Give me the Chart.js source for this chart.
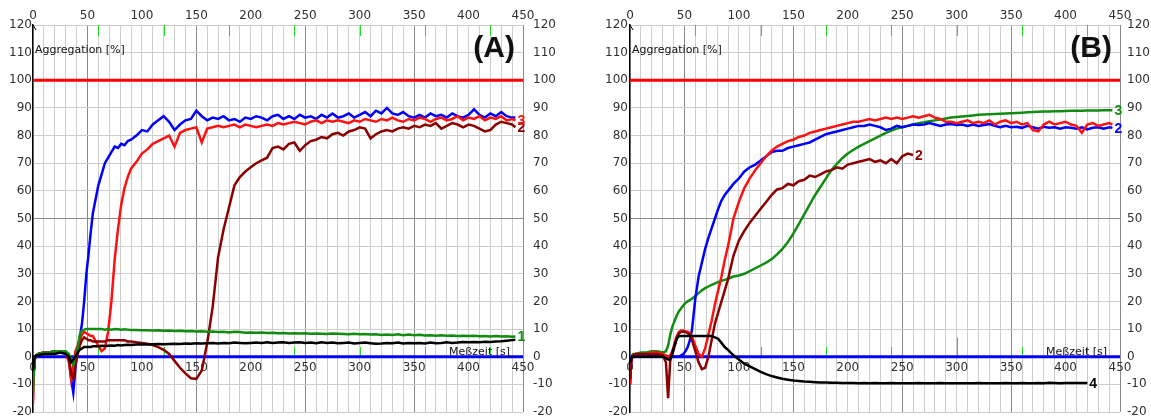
<!DOCTYPE html>
<html>
<head>
<meta charset="utf-8">
<script src="https://cdn.jsdelivr.net/npm/chart.js@4.4.1/dist/chart.umd.min.js"></script>
<style>
html, body { margin: 0; padding: 0; background: #fff; }
#wrap { position: relative; width: 1151px; height: 418px; overflow: hidden; }
canvas { position: absolute; top: 0; }
</style>
</head>
<body>
<div id="wrap">
  <canvas id="chartA" width="575" height="418" style="left:0"></canvas>
  <canvas id="chartB" width="576" height="418" style="left:575px"></canvas>
</div>
<script>
// time axis [s], shared by every curve
let time = [0,1,2,3,5,10,15,20,25,30,
  33,35,37,39,41,43,45,47,49,51,53,55,57,
  60,63,66,69,72,75,78,81,84,87,90,
  95,100,
  105,110,115,120,125,130,135,140,145,150,
  155,160,165,170,175,180,185,190,195,200,
  205,210,215,220,225,230,235,240,245,250,
  255,260,265,270,275,280,285,290,295,300,
  305,310,315,320,325,330,335,340,345,350,
  355,360,365,370,375,380,385,390,395,400,
  405,410,415,420,425,430,435,440,
  443];

// (A) aggregation [%]
let blueA = [-11,-3,0,0.5,1,1.5,1.5,2,2,1.5,
  0,-8,-13,-4,3,7,12,20,30,37,45,52,56,
  62,66,70,72,74,76,75.5,77,76.5,78,78.5,
  80,82,
  81.5,84,85.5,87,85,82,84,85.5,86,89,
  87,85.5,86.5,86,87,85.5,86,85,86.5,86,
  87,86.5,85.5,87,87.5,86,87,86,87.5,86.5,
  87,86,87.5,86.5,88,86.5,87,88,86.5,87.5,
  88.5,87,89,88,90,88,87.5,88.5,87,86.5,
  87.5,86.5,88,87,87.5,86.5,88,87,86.5,87.5,
  89.5,87.5,86.5,88,87,88.5,87,86.5,
  86.5];
let redA = [-17,-4,0,0.5,1,1.5,1.5,2,2,1.5,
  -2,-8,-3,2,4,6,8,9,8.5,8,7.5,7.5,6,
  4,2,3,9,20,35,46,55,61,65,68,
  70.5,73.5,
  75,77,78,79,80,76,81,82,82.5,83,
  77.5,82.5,83,83.5,83,83.5,84,83,84,83.5,
  83,83.5,84,83.5,84.5,84,84.5,85,84.5,84,
  85,85.5,84.5,85.5,85,85.5,85,84.5,85.5,85,
  86,85.5,85,86,85.5,86.5,85.5,85,86,85.5,
  86.5,86,85,86,86.5,85.5,86,87,85.5,86.5,
  86,87,85.5,86.5,86,87,85.5,86,
  85.5];
let darkRedA = [-8,-2,0,0.5,1,1.5,1.5,2,2,1.5,
  -1,-6,-8,-3,1,4,6,7,6.5,6,6,5.5,5.5,
  5.5,5.5,5.5,6,6,6,6,6,6,5.5,5.5,
  5.2,5,
  4.7,4.2,3.5,2.5,1,-1.5,-4,-6,-7.8,-8,
  -5,5,18,36,46,54,62,65,67,68.5,
  70,71,72,75.5,76,75,77,77.5,74.5,76.5,
  78,78.5,79.5,79,80.5,81,80,81.5,82,83,
  82.5,79,80.5,81.5,82,81.5,82.5,83,82.5,83.5,
  83,84,83.5,84.5,82.5,83.5,84.5,84,83,84,
  83.5,82.5,81.5,82,84,85,84.5,84,
  83];
let greenA = [-13,-3,0,0.5,1,1.5,1.5,2,2,2,
  1,-1,-3,0,3,8,9.5,9.8,10,10,10,10,10,
  10,10,9.8,10,9.8,10,9.9,9.8,9.9,9.8,9.7,
  9.7,9.6,
  9.6,9.5,9.6,9.4,9.5,9.3,9.4,9.2,9.3,9.1,
  9.2,9,9.1,8.9,9,8.8,9,8.9,8.7,8.8,
  8.7,8.8,8.6,8.7,8.5,8.6,8.4,8.5,8.4,8.5,
  8.3,8.4,8.3,8.2,8.4,8.3,8.2,8.1,8.3,8.1,
  8.2,8,8.1,7.9,8,7.9,8.1,7.8,8,7.8,
  7.9,7.7,7.8,7.6,7.8,7.6,7.7,7.5,7.6,7.5,
  7.6,7.4,7.5,7.3,7.5,7.3,7.4,7.2,
  7.3];
let blackA = [-5,-1,0,0.5,0.5,1,1,1,1.5,1,
  0,-2,-1,0,1.5,2.5,3,3.5,3.5,3.5,3.5,3.8,3.8,
  3.8,4,3.9,4,4.1,4,4.2,4.1,4.2,4.3,4.2,
  4.4,4.5,
  4.4,4.5,4.6,4.5,4.6,4.7,4.6,4.8,4.7,4.9,
  4.8,4.9,5,4.8,5,4.9,5.1,5,4.9,5,
  5.1,5,5.2,5,5.1,5.2,5,5.1,5.2,5,
  5.1,4.9,5.2,5,5.1,4.9,5,5.1,4.8,5,
  5.1,4.9,4.7,4.8,5,4.9,5.1,4.8,5,4.9,
  5,4.8,5.1,4.9,5,5.2,5,5.1,5.3,5.2,
  5.3,5.2,5.4,5.3,5.5,5.6,5.8,6,
  6.1];

// (B) aggregation [%]
let blueB = [-10,-2,0,0,0,0.5,0.5,0.5,0.5,0.5,
  0,0,0,0,0,0,0,0.5,1,2,3.5,6,10,
  21,29,34,39,43,46.5,50,53.5,56.5,58.5,60,
  62.5,64.5,
  67,68.5,69.5,71,72.5,74,74.5,74.5,75.5,76,
  76.5,77,77.5,78.5,79.5,80.5,81,81.5,82,82.5,
  83,83.5,83.5,84,83.5,83,82,82.5,83.5,83,
  83.5,84,83.8,84,84.5,84,83.5,84,84.2,83.8,
  84,83.5,84,83.5,83.8,84.2,83.5,83,83.5,83,
  83.2,82.8,83.5,83,82.5,83.2,82.8,83,82.5,83,
  82.8,82.5,83,82.2,82.8,83,82.5,83,
  82.8];
let redB = [-10,-2,0,0.5,1,1,1,1.5,1.5,1,
  0.5,0,0.5,2,5,7.5,9,9.5,9.5,9,9,8.5,7,
  4,1,0,3,8,13,19,24,29,35,40,
  50,56,
  61,64.5,67.5,70,72.5,74.5,76,77,78,78.5,
  79.5,80,81,81.5,82,82.5,83,83.5,84,84.5,
  85,85,85.5,86,85.5,86,86.5,86,86.5,86,
  86.5,87,86.5,87,87.5,86.5,86,85,85,84.5,
  85,85.5,84.5,85,84.5,85.5,84,85,85.5,84.5,
  85,84,84.5,82,81.5,84,85,84,84.5,85,
  84,83.5,81,84,84.5,83.5,84,84.5,
  84];
let darkRedB = [-8,-2,0,0.5,1,1,1,1,1,0.5,
  -2,-15,-1,2,4,7,8.5,9,9,9,8.5,8,6,
  2,-2,-4.5,-4,0,6,12,16,20,24,28,
  36.5,42,
  45.5,48.5,51,53.5,56,58.5,60.5,61,62.5,62,
  63.5,64,65.5,65,66,67,67.5,68.5,68,69.5,
  70,70.5,71,71.5,70.5,71,70,71.5,70,72.5,
  73.5,73,null,null,null,null,null,null,null,null,
  null,null,null,null,null,null,null,null,null,null,
  null,null,null,null,null,null,null,null,null,null,
  null,null,null,null,null,null,null,null,
  null];
let greenB = [-10,-2,0.5,1,1,1.5,1.5,2,2,1.5,
  2,4,8,11,13,15,16.5,17.5,18.5,19.5,20,20.5,21,
  22,23,24,24.8,25.4,26,26.5,27,27.5,27.8,28.2,
  29,29.4,
  30,31,32,33,34,35.3,37,39,41.5,44.5,
  48,51.5,55,58.5,61.5,64.5,67.5,69.8,71.8,73.5,
  74.8,76,77,78,79,80,81,81.8,82.5,83,
  83.5,84,84.5,84.8,85.2,85.5,85.8,86.2,86.5,86.7,
  86.9,87.1,87.3,87.5,87.6,87.7,87.8,87.9,88,88.1,
  88.2,88.3,88.4,88.5,88.6,88.7,88.7,88.8,88.8,88.9,
  89,89,89,89.1,89.1,89.1,89.2,89.2,
  89.2];
let blackB = [-2,-1,0,0,0,0,0,0,0,0,
  -0.5,-1,-1,1,4,6.5,7.5,7.5,7.5,7.5,7.5,7.5,7.5,
  7.5,7.5,7.5,7.5,7.5,7.5,7,6.5,5,3.5,2.5,
  0.5,-1,
  -2.5,-3.5,-4.5,-5.5,-6.3,-7,-7.5,-8,-8.3,-8.6,
  -8.8,-9,-9.1,-9.2,-9.3,-9.3,-9.4,-9.4,-9.5,-9.5,
  -9.5,-9.6,-9.5,-9.6,-9.5,-9.6,-9.6,-9.5,-9.6,-9.6,
  -9.6,-9.6,-9.5,-9.6,-9.6,-9.6,-9.5,-9.6,-9.6,-9.6,
  -9.6,-9.6,-9.6,-9.5,-9.6,-9.6,-9.6,-9.6,-9.5,-9.6,
  -9.6,-9.5,-9.6,-9.6,-9.5,-9.6,-9.4,-9.5,-9.6,-9.5,
  -9.5,-9.5,-9.5,-9.5,null,null,null,null,
  null];

// reference lines and minute marks
let lineX = [0, 450];
let zeroY = [0, 0];
let limitY = [100, 100];
let minuteMarks = [60, 120, 180, 240, 300, 360, 420];
let markHeightA = [3.5, 3.5, 3.5, 3.5, 3.5, 3.5, 3.5];
let markHeightB = [3.5, 3.5, 3.5, 3.5, 7, 3.5, 3.5];

const tickFont = { family: 'DejaVu Sans', size: 12, lineHeight: 1 };
const dark = '#303030';

function pts(xs, ys) {
  return xs.map((x, i) => ({ x: x, y: ys[i] === undefined ? null : ys[i] }));
}

function curve(ys, color, label) {
  return {
    data: pts(time, ys),
    borderColor: color,
    borderWidth: 2.5,
    pointRadius: 0,
    endLabel: label,
    order: 0
  };
}

function noPad(s) {
  s.paddingTop = 0; s.paddingBottom = 0; s.paddingLeft = 0; s.paddingRight = 0;
}

const deco = {
  id: 'deco',
  beforeDatasetsDraw(chart, args, o) {
    let ctx = chart.ctx, x = chart.scales.x, y = chart.scales.y;
    ctx.save();
    ctx.strokeStyle = '#22dd22';
    ctx.lineWidth = 1;
    minuteMarks.forEach((t, i) => {
      let px = Math.round(x.getPixelForValue(t)) + 0.5;
      ctx.beginPath();
      ctx.moveTo(px, y.getPixelForValue(120));
      ctx.lineTo(px, y.getPixelForValue(116));
      ctx.moveTo(px, y.getPixelForValue(0));
      ctx.lineTo(px, y.getPixelForValue(o.markH[i]));
      ctx.stroke();
    });
    ctx.restore();
  },
  afterDatasetsDraw(chart, args, o) {
    let ctx = chart.ctx, a = chart.chartArea, y = chart.scales.y;
    ctx.save();
    // arrow on top of the value axis
    ctx.strokeStyle = '#000';
    ctx.lineWidth = 1;
    ctx.beginPath();
    ctx.moveTo(a.left, a.top);
    ctx.lineTo(a.left + 3, a.top + 5);
    ctx.stroke();

    ctx.fillStyle = '#111';
    ctx.font = '11px "DejaVu Sans"';
    ctx.textBaseline = 'alphabetic';
    ctx.textAlign = 'left';
    ctx.fillText('Aggregation [%]', a.left + 2, a.top + 28);
    ctx.textAlign = 'right';
    ctx.fillText('Meßzeit [s]', a.right - 13, y.getPixelForValue(0) - 2);

    ctx.font = 'bold 30px "Liberation Sans"';
    ctx.textBaseline = 'middle';
    ctx.fillText(o.tag, a.right - 8, a.top + 24);

    // curve numbers at the end of each trace
    ctx.font = 'bold 14px "Liberation Sans"';
    ctx.textAlign = 'left';
    chart.data.datasets.forEach((ds, i) => {
      if (!ds.endLabel) return;
      let els = chart.getDatasetMeta(i).data;
      let last = null;
      els.forEach((el, j) => { if (ds.data[j].y !== null) last = el; });
      if (!last) return;
      ctx.fillStyle = ds.borderColor;
      ctx.fillText(ds.endLabel, last.x + 2, last.y + 1);
    });
    ctx.restore();
  }
};

function makeChart(id, curves, p) {
  let datasets = curves.concat([
    { data: pts(lineX, limitY), borderColor: '#ff0000', borderWidth: 3, pointRadius: 0, order: 1 },
    { data: pts(lineX, zeroY), borderColor: '#0000ff', borderWidth: 3, pointRadius: 0, order: 1 }
  ]);
  return new Chart(document.getElementById(id), {
    type: 'line',
    data: { datasets: datasets },
    plugins: [deco],
    options: {
      responsive: false,
      animation: false,
      devicePixelRatio: 1,
      layout: { padding: { top: 0, right: 0, bottom: 6, left: 0 } },
      plugins: {
        legend: { display: false },
        tooltip: { enabled: false },
        deco: { tag: p.tag, markH: p.markH }
      },
      scales: {
        x: {
          type: 'linear', position: 'top', min: 0, max: 450,
          ticks: {
            stepSize: 10, autoSkip: false, maxRotation: 0, padding: 3,
            color: dark, font: tickFont,
            callback: v => (v % 50 === 0 ? String(v) : '')
          },
          grid: {
            drawTicks: false, lineWidth: 1,
            color: c => (c.tick && c.tick.value % 100 === 50 ? '#8a8a8a' : '#cdcdcd')
          },
          border: { display: false },
          afterFit: s => { s.height = 25; noPad(s); }
        },
        x2: {
          type: 'linear', axis: 'x', position: { y: 0 }, min: 0, max: 450,
          ticks: { stepSize: 50, autoSkip: false, maxRotation: 0, padding: 5, color: dark, font: tickFont },
          grid: { display: false, drawTicks: false },
          border: { display: false },
          afterFit: s => { noPad(s); }
        },
        y: {
          type: 'linear', position: 'left', min: -20, max: 120,
          ticks: { stepSize: 10, padding: p.leftPad, color: dark, font: tickFont },
          grid: {
            drawTicks: false, lineWidth: 1,
            color: c => (c.tick && c.tick.value === 50 ? '#8a8a8a' : '#cdcdcd')
          },
          border: { display: true, color: '#000', width: 1.5 },
          afterFit: s => { s.width = p.leftW; noPad(s); }
        },
        y2: {
          type: 'linear', position: 'right', min: -20, max: 120,
          ticks: { stepSize: 10, padding: p.rightPad, color: dark, font: tickFont },
          grid: { display: false, drawTicks: false },
          border: { display: false },
          afterFit: s => { s.width = p.rightW; noPad(s); }
        }
      }
    }
  });
}

makeChart('chartA', [
  curve(blackA, '#000000', null),
  curve(greenA, '#118c11', '1'),
  curve(darkRedA, '#8b0000', '2'),
  curve(redA, '#ff1010', '3'),
  curve(blueA, '#0000ff', null)
], { tag: '(A)', markH: markHeightA, leftW: 33, rightW: 52, leftPad: 1, rightPad: 10 });

makeChart('chartB', [
  curve(blackB, '#000000', '4'),
  curve(darkRedB, '#8b0000', '2'),
  curve(redB, '#ff1010', null),
  curve(blueB, '#0000ff', '2'),
  curve(greenB, '#118c11', '3')
], { tag: '(B)', markH: markHeightB, leftW: 55, rightW: 31, leftPad: 2, rightPad: 7 });
</script>
</body>
</html>
